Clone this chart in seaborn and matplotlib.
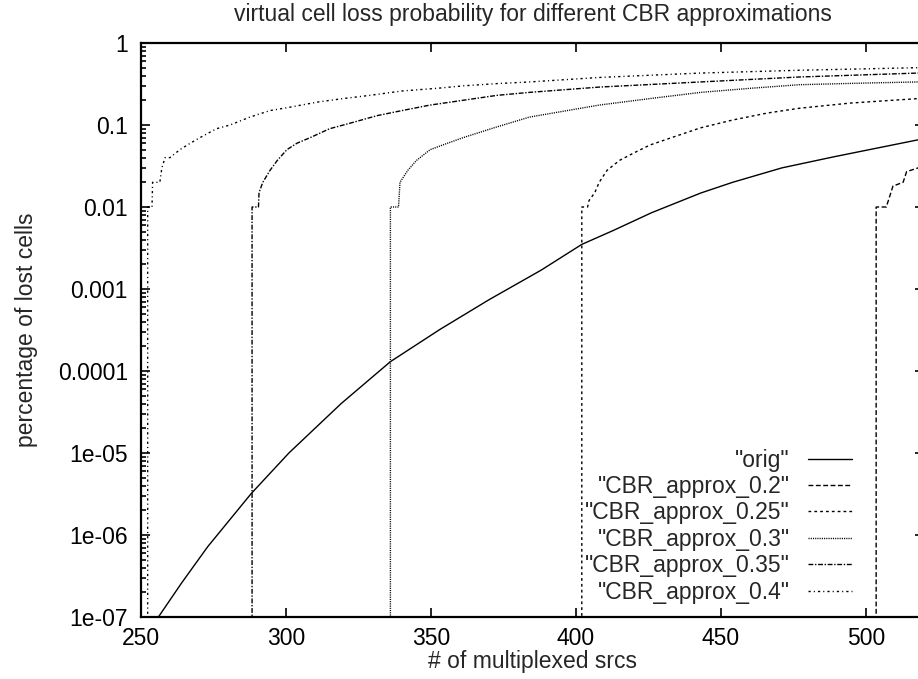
import numpy as np
import pandas as pd
import matplotlib
matplotlib.use("Agg")
import matplotlib.pyplot as plt
import seaborn as sns
from matplotlib.ticker import FixedLocator, FixedFormatter, LogLocator, NullFormatter

# ---------------- data ----------------
title = "virtual cell loss probability for different CBR approximations"
x_label = "# of multiplexed srcs"
y_label = "percentage of lost cells"

x_ticks = [250, 300, 350, 400, 450, 500]
y_ticks = [1e-7, 1e-6, 1e-5, 1e-4, 1e-3, 1e-2, 1e-1, 1]
y_tick_labels = ["1e-07", "1e-06", "1e-05", "0.0001", "0.001", "0.01", "0.1", "1"]

labels = ['"orig"', '"CBR_approx_0.2"', '"CBR_approx_0.25"',
          '"CBR_approx_0.3"', '"CBR_approx_0.35"', '"CBR_approx_0.4"']

orig_x = [256, 264, 273, 288, 301, 319, 336, 353, 370, 388, 402, 413, 426,
          443, 454, 471, 489, 518]
orig_y = [1e-7, 2.6e-7, 7.2e-7, 3.2e-6, 1.0e-5, 4.0e-5, 1.3e-4, 3.2e-4,
          7.4e-4, 1.7e-3, 3.5e-3, 5.2e-3, 8.5e-3, 1.48e-2, 2.0e-2, 3.0e-2,
          4.1e-2, 6.6e-2]

cbr02_x = [503.5, 503.5, 507, 509.3, 512.8, 514, 518]
cbr02_y = [0, 0.01, 0.01, 0.018, 0.02, 0.027, 0.03]

cbr025_x = [402, 402, 404, 404.5, 406.5, 408, 410.7, 415, 419.6, 425.5, 433.4,
            442.8, 454, 466, 477, 494.5, 518]
cbr025_y = [0, 0.01, 0.01, 0.012, 0.015, 0.02, 0.028, 0.037, 0.045, 0.057,
            0.071, 0.092, 0.115, 0.14, 0.16, 0.185, 0.21]

cbr03_x = [336, 336, 338.8, 339.3, 342, 345, 349.7, 354, 361, 372.8, 384, 408,
           425.5, 443, 460, 477, 500, 518]
cbr03_y = [0, 0.01, 0.01, 0.02, 0.028, 0.037, 0.05, 0.057, 0.07, 0.095, 0.125,
           0.175, 0.21, 0.25, 0.28, 0.31, 0.325, 0.335]

cbr035_x = [288.3, 288.3, 290.5, 290.7, 292, 294.5, 297, 300.3, 303.8, 308.3,
            315, 322, 331.4, 340, 349.7, 361, 372.8, 384, 408, 443, 477, 518]
cbr035_y = [0, 0.01, 0.01, 0.015, 0.02, 0.028, 0.037, 0.05, 0.06, 0.07, 0.09,
            0.105, 0.13, 0.15, 0.175, 0.20, 0.23, 0.25, 0.29, 0.335, 0.385, 0.43]

cbr04_x = [252.3, 252.3, 253.8, 254.0, 256.5, 257.2, 258.3, 260, 263.4, 267,
           270.3, 276, 280.7, 287.6, 294.5, 301.4, 310.7, 319.7, 329, 340, 352,
           361, 372.8, 384, 408, 443, 477, 518]
cbr04_y = [0, 0.01, 0.01, 0.02, 0.02, 0.03, 0.04, 0.04, 0.05, 0.06, 0.07, 0.09,
           0.10, 0.125, 0.15, 0.165, 0.19, 0.21, 0.23, 0.26, 0.28, 0.30, 0.32,
           0.335, 0.38, 0.43, 0.465, 0.50]

series_x = [orig_x, cbr02_x, cbr025_x, cbr03_x, cbr035_x, cbr04_x]
series_y = [orig_y, cbr02_y, cbr025_y, cbr03_y, cbr035_y, cbr04_y]

# ---------------- style ----------------
sns.set_style("ticks")
plt.rcParams["font.family"] = ["Liberation Sans", "DejaVu Sans"]
FS = 16.5
plt.rcParams["font.size"] = FS

line_styles = ["-", (0, (3.5, 1.8)), (0, (2.0, 2.2)), (0, (0.8, 0.8)),
               (0, (3.5, 1.2, 1.0, 1.2)), (0, (1.6, 2.2, 0.8, 2.2))]

fig = plt.figure(figsize=(9.18, 6.79), dpi=100)
ax = fig.add_axes([141 / 918, 62 / 679, 783 / 918, 574 / 679])

for xs, ys, lab, ls in zip(series_x, series_y, labels, line_styles):
    df = pd.DataFrame({"x": xs, "y": ys})
    sns.lineplot(data=df, x="x", y="y", ax=ax, sort=False, estimator=None,
                 color="black", linewidth=1.0, label=lab)
    ax.lines[-1].set_linestyle(ls)

ax.set_yscale("log", nonpositive="clip")
ax.set_xlim(250, 520)
ax.set_ylim(1e-7, 1)

ax.xaxis.set_major_locator(FixedLocator(x_ticks))
ax.yaxis.set_major_locator(FixedLocator(y_ticks))
ax.yaxis.set_major_formatter(FixedFormatter(y_tick_labels))
ax.yaxis.set_minor_locator(LogLocator(base=10, subs=np.arange(2, 10)))
ax.yaxis.set_minor_formatter(NullFormatter())
ax.xaxis.set_minor_locator(FixedLocator([]))

ax.tick_params(which="both", direction="in", top=True, right=True,
               color="black", width=1.2, labelsize=FS, labelcolor="black")
ax.tick_params(which="major", length=6.5)
ax.tick_params(axis="y", which="major", pad=9.5)
ax.tick_params(axis="x", which="major", pad=7.5)
ax.tick_params(which="minor", length=3.5)

for sp in ax.spines.values():
    sp.set_visible(True)
    sp.set_linewidth(1.6)
    sp.set_color("black")

ax.set_title(title, fontsize=FS, pad=16)
ax.set_xlabel(x_label, fontsize=FS)
ax.set_ylabel(y_label, fontsize=FS)
ax.xaxis.set_label_coords(0.5, -0.058)
ax.yaxis.set_label_coords(-0.132, 0.5)

leg = ax.legend(loc="lower right", bbox_to_anchor=(0.908, 0.023),
                markerfirst=False, frameon=False, fontsize=FS,
                handlelength=1.92, handletextpad=0.79, labelspacing=0.15,
                borderaxespad=0, borderpad=0)
for h in leg.get_lines():
    h.set_linewidth(1.0)

fig.savefig("out.png", dpi=100)
